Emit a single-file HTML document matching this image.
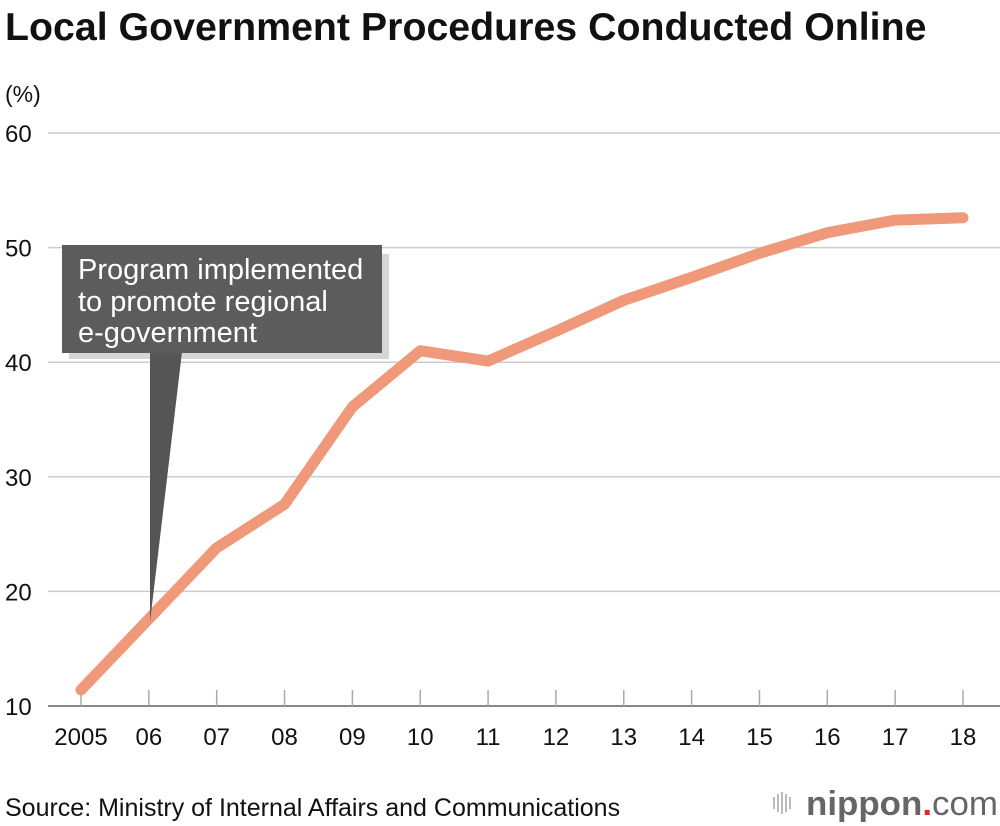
<!DOCTYPE html>
<html><head><meta charset="utf-8"><style>
body{margin:0;background:#fff;}
svg{display:block;font-family:"Liberation Sans",sans-serif;}
</style></head><body>
<svg id="chart" width="1000" height="826" viewBox="0 0 1000 826">
<text x="5" y="40" font-size="39.3" font-weight="bold" fill="#111">Local Government Procedures Conducted Online</text>
<text x="5" y="102" font-size="23" fill="#111">(%)</text>
<g id="grid"></g>
<g id="xaxis"></g>
<path id="line" fill="none" stroke="#f0997a" stroke-width="11" stroke-linejoin="round" stroke-linecap="round"></path>
<g>
<rect x="65" y="250" width="320" height="105" fill="#8a8a8a" opacity="0.35" transform="translate(4,4)"/>
<polygon points="150,352 182,352 150,622" fill="#555"/>
<rect x="62" y="245" width="320" height="108" fill="#5c5c5c"/>
<text x="78" y="279" font-size="29" fill="#fff">Program implemented</text>
<text x="78" y="311" font-size="29" fill="#fff">to promote regional</text>
<text x="78" y="342" font-size="29" fill="#fff">e-government</text>
</g>
<text x="5" y="816" font-size="25" fill="#111">Source: Ministry of Internal Affairs and Communications</text>
<g>
<rect x="773" y="797" width="2" height="12" fill="#bbb"/><rect x="777" y="794" width="2" height="18" fill="#bbb"/><rect x="781" y="792" width="2" height="22" fill="#bbb"/><rect x="785" y="794" width="2" height="18" fill="#bbb"/><rect x="789" y="797" width="2" height="12" fill="#bbb"/>
<text x="806" y="815" font-size="34" font-weight="bold" fill="#666" textLength="192" lengthAdjust="spacingAndGlyphs">nippon<tspan fill="#e8232a">.</tspan><tspan font-weight="normal">com</tspan></text>
</g>
</svg>
<script>
const categories=["2005","06","07","08","09","10","11","12","13","14","15","16","17","18"];
const values=[11.4,17.6,23.8,27.6,36.1,41.0,40.1,42.7,45.4,47.4,49.5,51.3,52.4,52.6];
const yTicks=[10,20,30,40,50,60];
const NS="http://www.w3.org/2000/svg";
const x=i=>81+i*(963-81)/(categories.length-1);
const y=v=>706-(v-10)*(706-133)/50;
const grid=document.getElementById('grid');
yTicks.forEach(t=>{
 const l=document.createElementNS(NS,'line');
 
 
 l.setAttribute('x1',48);l.setAttribute('x2',1000);l.setAttribute('y1',y(t));l.setAttribute('y2',y(t));
 l.setAttribute('stroke',t===10?'#888':'#ccc');l.setAttribute('stroke-width',t===10?2:1.5);
 grid.appendChild(l);
 const tx=document.createElementNS(NS,'text');
 
 
 tx.setAttribute('x',5);tx.setAttribute('y',y(t)+9);tx.setAttribute('font-size',24);tx.setAttribute('fill','#111');
 tx.textContent=t;grid.appendChild(tx);
});
const xa=document.getElementById('xaxis');
categories.forEach((c,i)=>{
 const l=document.createElementNS(NS,'line');
 
 
 l.setAttribute('x1',x(i));l.setAttribute('x2',x(i));l.setAttribute('y1',690);l.setAttribute('y2',706);
 l.setAttribute('stroke','#aaa');l.setAttribute('stroke-width',1.5);xa.appendChild(l);
 const tx=document.createElementNS(NS,'text');
 
 
 tx.setAttribute('x',x(i));tx.setAttribute('y',745);tx.setAttribute('font-size',24);tx.setAttribute('fill','#111');tx.setAttribute('text-anchor','middle');
 tx.textContent=c;xa.appendChild(tx);
});
document.getElementById('line').setAttribute('d',values.map((v,i)=>(i?'L':'M')+x(i)+','+y(v)).join(''));
</script>
</body></html>
